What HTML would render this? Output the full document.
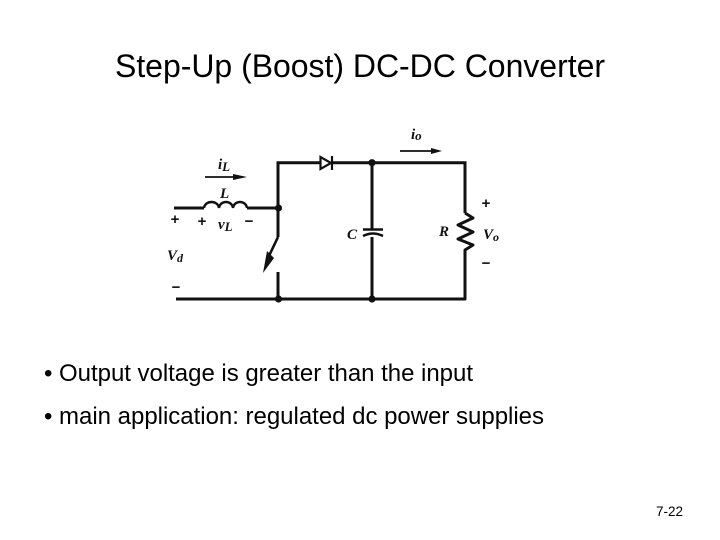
<!DOCTYPE html>
<html>
<head>
<meta charset="utf-8">
<style>
html,body{margin:0;padding:0;background:#fff;width:720px;height:540px;overflow:hidden}
svg{display:block}
.t{font-family:"Liberation Sans",sans-serif;fill:#000}
.m{font-family:"Liberation Serif",serif;font-style:italic;font-weight:bold;fill:#111}
.s{font-family:"Liberation Sans",sans-serif;font-weight:bold;fill:#111}
</style>
</head>
<body>
<svg width="720" height="540" viewBox="0 0 720 540" xmlns="http://www.w3.org/2000/svg">
<rect width="720" height="540" fill="#fff"/>
<text class="t" x="115" y="77" font-size="32" textLength="490" lengthAdjust="spacing">Step-Up (Boost) DC-DC Converter</text>
<text class="t" x="44" y="381" font-size="24" textLength="429" lengthAdjust="spacing">• Output voltage is greater than the input</text>
<text class="t" x="44" y="424" font-size="24" textLength="500" lengthAdjust="spacing">• main application: regulated dc power supplies</text>
<text class="t" x="656" y="516" font-size="13.500" textLength="27" lengthAdjust="spacing">7-22</text>

<g fill="none" stroke="#111" stroke-width="3" stroke-linecap="butt" stroke-linejoin="miter">
<path d="M174 208H204"/>
<path d="M204 208C205 200 218 200 219 208C220 200 232 200 233 208C234 200 246 200 247 208" stroke-width="2.400"/>
<path d="M247 208H278"/>
<path d="M320 162.700H278V237"/>
<path d="M332 162.700H465V213"/>
<path d="M465 213L473 218L458 225L473 232L458 239L473 245L465 250V299H176" stroke-linejoin="round"/>
<path d="M278 272V299"/>
<path d="M372 162.700V229"/>
<path d="M372 237V299"/>
<path d="M363 229.500H383" stroke-width="2.400"/>
<path d="M363 236Q373 231 383 236" stroke-width="2.400"/>
<path d="M278 237L268 258" stroke-width="2.600"/>
<path d="M320.500 157V169L331 163Z" stroke-width="2.200" fill="#fff"/>
<path d="M332 156V170" stroke-width="2.200"/>
<path d="M205 177H240" stroke-width="1.800"/>
<path d="M400 151H436" stroke-width="1.800"/>
</g>
<path d="M267 251L263 273L274 258Z" fill="#111"/>
<path d="M233 174L247 177L233 180Z" fill="#111"/>
<path d="M431 148L442 151L431 154Z" fill="#111"/>
<circle cx="278.500" cy="208" r="3.600" fill="#111"/>
<circle cx="278.500" cy="299" r="3.600" fill="#111"/>
<circle cx="372" cy="162.700" r="3.600" fill="#111"/>
<circle cx="372" cy="299" r="3.600" fill="#111"/>

<text class="m" x="218" y="169" font-size="15">i<tspan font-size="13" dy="2">L</tspan></text>
<text class="m" x="220" y="198" font-size="15">L</text>
<text class="m" x="218" y="229" font-size="15">v<tspan font-size="13" dy="2">L</tspan></text>
<text class="m" x="167" y="260" font-size="15">V<tspan font-size="12" dy="2">d</tspan></text>
<text class="m" x="411" y="139" font-size="15">i<tspan font-size="13" dy="1">o</tspan></text>
<text class="m" x="347" y="239" font-size="15">C</text>
<text class="m" x="439" y="236" font-size="15">R</text>
<text class="m" x="483" y="239" font-size="15">V<tspan font-size="12" dy="2">o</tspan></text>
<text class="s" x="175" y="224" font-size="15" text-anchor="middle">+</text>
<text class="s" x="202" y="226" font-size="15" text-anchor="middle">+</text>
<text class="s" x="249" y="226" font-size="15" text-anchor="middle">−</text>
<text class="s" x="176" y="292" font-size="15" text-anchor="middle">−</text>
<text class="s" x="486" y="208" font-size="15" text-anchor="middle">+</text>
<text class="s" x="486" y="268" font-size="15" text-anchor="middle">−</text>
</svg>
</body>
</html>
